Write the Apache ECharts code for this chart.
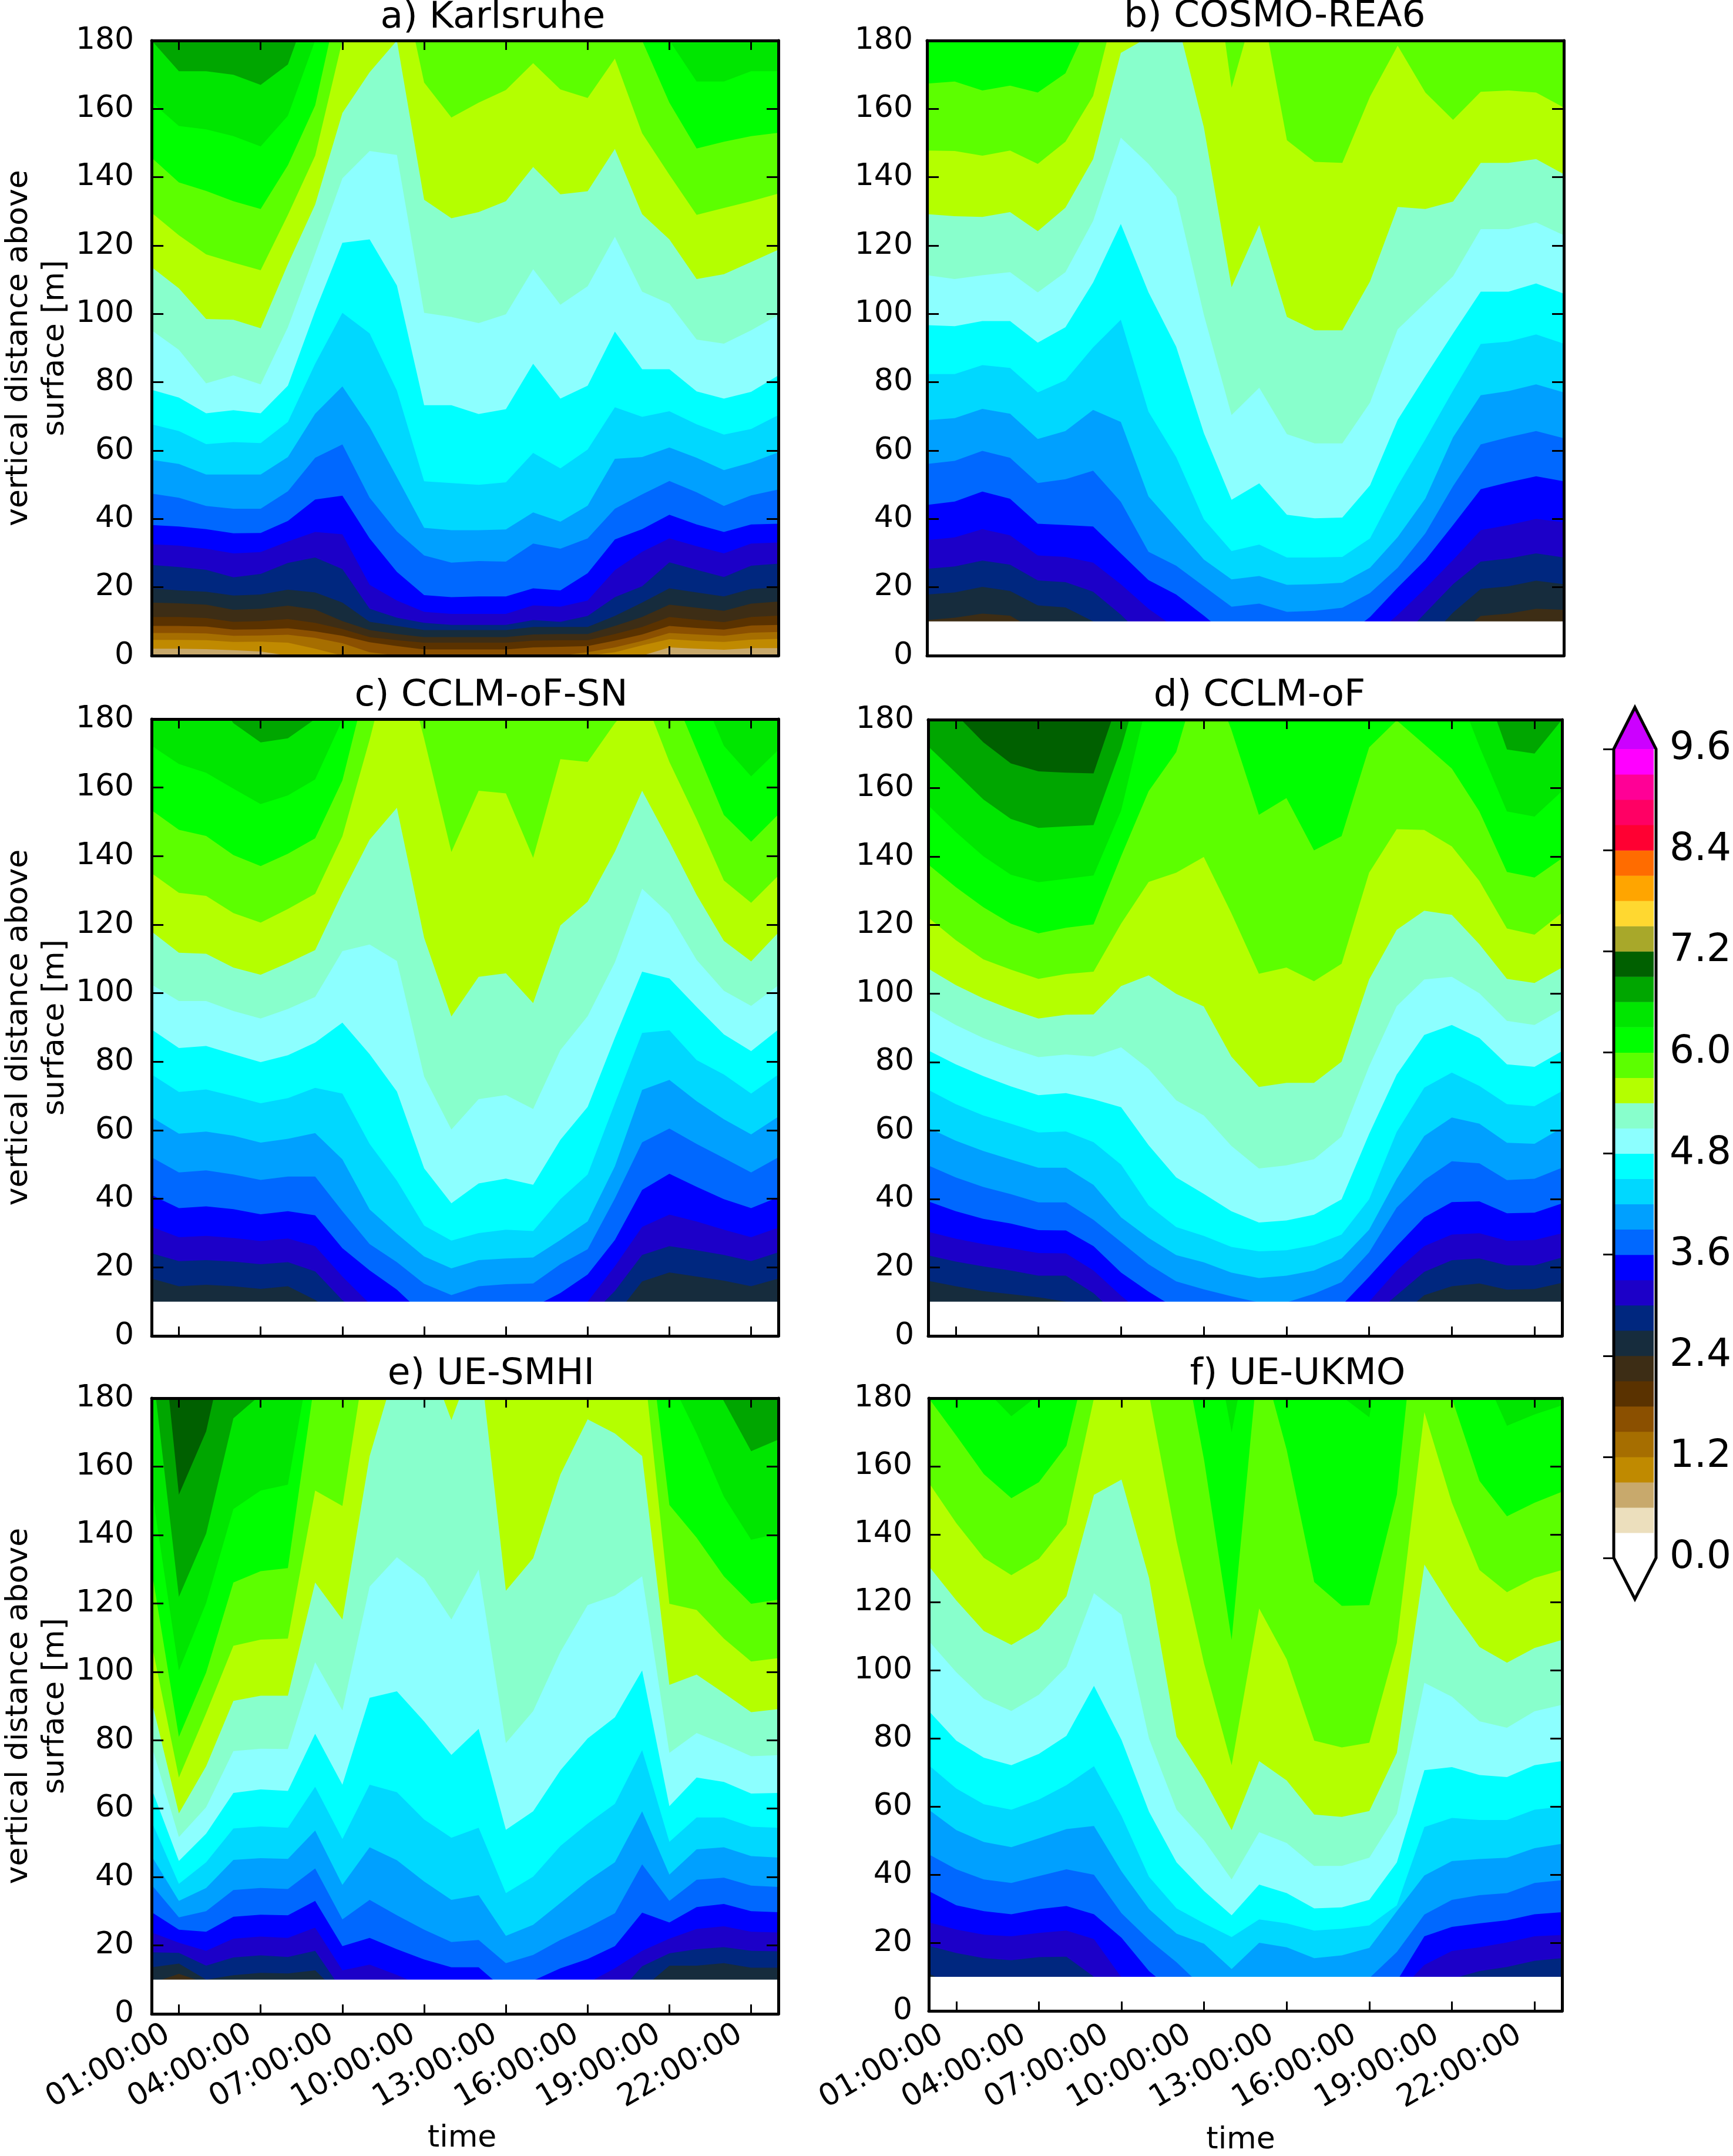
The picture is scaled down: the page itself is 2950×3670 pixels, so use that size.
<!DOCTYPE html>
<html><head><meta charset="utf-8">
<style>html,body{margin:0;padding:0;background:#fff}#c{width:2950px;height:3670px}</style>
<script src="https://cdn.jsdelivr.net/npm/echarts@6/dist/echarts.min.js"></script>
</head><body><div id="c"></div>
<script>
const hours=[0,1,2,3,4,5,6,7,8,9,10,11,12,13,14,15,16,17,18,19,20,21,22,23];
const tickHours=[1,4,7,10,13,16,19,22];
const tickLabels=['01:00:00','04:00:00','07:00:00','10:00:00','13:00:00','16:00:00','19:00:00','22:00:00'];
const panelTitles=['a) Karlsruhe','b) COSMO-REA6','c) CCLM-oF-SN','d) CCLM-oF','e) UE-SMHI','f) UE-UKMO'];
const maskHeight=10;
const colorbarStep=0.3;
const colorbarColors=['#ffffff','#ecdfbd','#c8a96c','#c08a00','#a66e00','#8b5000','#5a3200','#3d2d15','#162c3d','#00277f','#1c00c8','#0000ff','#0068ff','#00a0ff','#00d8ff','#00ffff','#8cffff','#88ffcc','#b4ff00','#5cff00','#00ff00','#00e600','#00a600','#006000','#a8a82a','#ffd830','#ffa500','#ff6c00','#ff0032','#ff0064','#ff0096','#ff00ff'];
// contour heights [m] per hour, listed from the highest band boundary downward
const topBands=[22,20,22,23,23,21];
const contoursA=[
[180,171,171,170,167,173,195,200,200,200,200,200,200,200,200,200,200,200,200,200,200,200,200,200],
[162,155,154,152,149,158,180,200,200,200,200,200,200,200,200,200,200,200,200,180,168,168,171,171],
[145.7,138.5,136,133,130.7,143.5,161,197,200,200,200,200,200,200,200,200,200,200,180,161.8,148.4,150.4,152,153],
[129.6,123,117.4,115,112.8,129,146.3,180,205,205,167.7,157.5,161.8,165.5,173.4,165.7,163.2,174.7,152.9,140.7,129,131,133,135.2],
[113.7,107.5,98.5,98.3,95.8,114.6,132,158.8,170.7,180,133.4,128,129.8,133,143,135,135.9,148.3,129.2,121.8,110.2,111.6,115.2,118.8],
[95.2,89.5,79.7,82,79.4,96.1,117.6,139.7,147.7,146.5,100.3,99.1,97.3,99.9,113.1,102.7,108.1,122.6,106.5,103,92.5,91.3,95.2,99.7],
[77.8,75.5,70.9,71.8,70.9,79,100.8,120.8,121.8,108.3,73.3,73.3,70.7,72.1,85.4,75.2,79,94.8,83.8,83.8,77.3,75.2,77.2,82],
[67.7,65.7,61.9,62.5,62.2,68.4,85.4,100.3,94.3,77.6,51,50.5,50,50.7,59.3,54.8,60.3,72.7,69.9,71.5,67.7,64.7,66.3,70.4],
[57.3,56.1,53,53,53,58.1,70.8,78.8,66.9,52.2,37.4,36.7,36.7,36.9,41.9,39.2,43.9,57.6,58.1,60.9,57.9,54.3,56.5,59.5],
[47.4,46.2,43.8,43,43,48.1,57.9,61.8,46.2,36.3,29.3,27.2,27.7,27.5,32.8,31.3,34.3,43,47.2,51.1,47.8,43.8,46.9,48.6],
[38.2,37.8,37,35.8,35.9,39.4,45.7,46.8,34.3,24.5,17.7,17.1,17.3,17.3,19.7,19.1,24.1,34,37,41.2,38.4,36.2,38.4,38.6],
[32.6,32.2,31.3,29.9,30.3,33.4,36.2,35.5,20.7,16.1,12.8,12.2,12.2,12.2,14.7,14.3,16.1,25,30.4,34.3,32,29.9,32.8,33.1],
[26.5,25.9,25.1,22.9,23.9,27.1,28.7,25.3,13.7,11.1,9.6,9,9,9,10.4,9.9,11.6,17.1,20.3,27.3,25.1,23,26.3,26.9],
[19.7,19.1,18.7,17.6,17.9,19.3,18.5,15.5,9.9,8.7,7.5,7.5,7.5,7.5,8.4,8.4,8.4,11.6,15.5,19.7,18.5,17.3,19.5,19.9],
[15.5,15.3,14.9,13.4,13.7,14.6,13.5,10.1,7.5,6.3,5.4,5.4,5.4,5.4,6.2,6.3,6.3,8.7,11.3,14.9,14,13.1,15.2,15.8],
[11.3,11.3,11,9.9,10.1,10.7,9.6,7.8,5.4,4.5,3.8,3.8,3.8,3.8,4.4,4.5,4.5,6.3,8.4,11.3,10.5,9.8,11.3,11.7],
[8.7,8.7,8.5,7.6,7.7,8,7.1,5.8,3.9,2.8,1.8,1.8,1.8,1.8,2.4,2.6,2.8,4.4,6.2,8.7,8.1,7.6,8.8,9],
[6.6,6.6,6.5,5.8,5.9,6.1,5.2,3.6,1,0,0,0,0,0,0,0,1,2.4,4.3,6.6,6.2,5.8,6.7,6.9],
[4.6,4.6,4.5,4,4.1,3.8,2,0,0,0,0,0,0,0,0,0,0,1,3,4.8,4.3,4,4.7,4.9],
[2,2,1.9,1.6,1.2,0,0,0,0,0,0,0,0,0,0,0,0,0,0,2.4,2,1.7,2.2,2.2]
];
const contoursB=[
[167.4,168,165.4,166.8,164.8,170.4,188,200,200,200,200,200,200,200,200,200,200,200,200,200,200,200,200,200],
[147.8,147.7,146.3,147.8,143.9,150.4,163.8,196,200,200,225,166.2,194.5,150.8,144.5,144.2,163.6,178.5,164.8,156.8,165,165.4,164.8,160.4],
[129.2,128.6,128.4,129.8,124.2,131.1,145.3,176.4,181,187,154.6,107.8,126,99.1,95.2,95.2,109.5,131.3,130.7,132.9,144.2,144.2,145.3,140.9],
[111.3,110.2,111.3,112.2,106.3,112.2,127.2,151.6,143.9,134.3,99.7,70.4,78.4,64.8,62.1,62.1,74,95.5,103.3,111,124.8,124.8,126.8,123],
[96.7,96.4,97.9,97.9,91.6,96.1,109.2,126.3,106.3,90.4,65.1,45.6,50.4,41.2,40.2,40.4,49.8,69,81.8,94.3,106.5,106.5,108.9,105.9],
[82.4,82.4,85,84.2,77,80.6,90.2,98.3,71.4,58.1,39.9,30.6,32.5,28.7,28.7,28.9,34.3,49.7,63.3,77.6,91.2,91.9,94,91.3],
[68.9,69.5,72.2,70.8,63.4,65.7,71.9,68.4,46.6,37.4,28.1,22.3,23.3,20.7,20.9,21.3,25.7,34.7,46,63.9,76.2,77.4,79.4,77],
[56.1,57,59.9,57.9,50.5,51.6,54.1,45,30.4,26.3,20.3,14.3,15.2,12.8,13.1,14,18.3,25.7,35.8,49.6,61.8,63.9,65.7,63.6],
[44.1,45.1,48,45.9,38.6,38.2,37.8,29.9,22.1,17.9,11.7,5,5,5,5,5,11.3,19.9,28,38.2,48.7,50.7,52.5,51],
[33.8,34.6,37,35.2,29.3,28.9,27.2,20.9,13.7,8,4,4,4,4,4,4,5,11.9,19.7,28,36.7,38.2,40,39],
[25.4,26.1,27.8,26.6,22,21.5,18.7,12,4,4,4,4,4,4,4,4,4,4,12.5,20.9,27.5,28.4,29.9,28.7],
[17.9,18.5,20.1,18.9,14.7,14.1,10,4,4,4,4,4,4,4,4,4,4,4,4,12.6,19.5,20.3,21.9,20.9],
[10.4,11.1,12.3,11.7,7,5,5,5,5,5,5,5,5,5,5,5,5,5,5,5,11.6,12.3,13.7,13.4]
];
const contoursC=[
[195,195,190,178.8,173.2,174.4,180,200,200,200,200,200,200,200,200,200,200,200,200,200,200,200,200,200],
[172.2,166.9,164.3,159.7,155.2,157.7,162.4,179.8,200,200,200,200,200,200,200,200,200,200,200,200,191,172.2,163.3,171],
[153.4,147.7,145.9,140.3,137.1,140.7,145.2,162.1,194,200,200,200,200,200,200,200,200,200,200,190,171,152,144.2,152.2],
[135,129.3,128.4,123.4,120.6,124.6,129,145.8,174,205,174.3,141.2,159.1,158.3,139.5,168.3,167.5,178.8,188,167.5,150.8,132.9,126.4,134.3],
[118,111.8,111.5,107.5,105.4,108.8,112.6,129.3,144.8,154.1,116.2,93.2,104.8,105.8,97.1,119.8,126.7,141.3,159.1,144.2,128.7,115.3,109.3,117.7],
[102.5,97.7,97.7,94.8,92.6,95.4,98.9,112.3,114.2,109.4,75.7,60.2,69.1,70.3,66.2,83.4,93.3,109,130.5,123.1,109.7,100.7,96.3,102.3],
[89.4,84,84.6,82.2,79.9,81.9,85.6,91.4,82.2,71.3,48.9,38.7,44.5,45.9,44.1,57.2,66.8,87,106.3,104.3,96,88,83.1,89.4],
[76.3,71.2,71.9,70,67.9,69.4,72.4,70.7,56,45.3,32.2,27.8,30,31,30.6,39.9,47.1,67.9,88.4,89.2,80.5,76.3,70.7,76.3],
[63.8,59,59.6,58.4,56.4,57.5,59.2,51.5,36.9,29.8,23.2,19.7,22.1,22.6,22.9,28,33.4,49.5,71.8,74.7,68.5,63.2,58.8,64],
[52.1,47.7,48.3,47.1,45.5,46.5,46.5,36.4,26.8,21.5,15.2,11.9,14.5,15.1,15.3,20.9,25.3,40.1,56.5,60.5,56,51.9,47.7,52.1],
[41.1,37.3,37.8,37,35.5,36.4,35.2,25.6,19.1,13.5,6,5,5,5,8.4,12.5,17.9,28,42.6,47.3,43.5,39.9,37.3,40.5],
[31.8,28.8,29.2,28.6,27.7,28.4,26.2,17.3,9.4,5,5,5,5,5,5,5,10,20.3,31.8,35.4,33.4,31,28.8,31.6],
[24.1,21.8,22.1,21.7,20.9,21.5,18.8,10.4,5,5,5,5,5,5,5,5,5,13.1,23.6,26.2,25,23.6,21.8,24.4],
[16.7,14.5,14.9,14.5,13.7,14.5,10.5,5,5,5,5,5,5,5,5,5,5,5.7,15.9,18.5,17.3,16.1,14.5,16.7]
];
const contoursD=[
[195,181.6,173.4,167.2,164.9,164.5,164.3,188,200,200,200,200,200,200,200,200,200,200,200,200,200,200,200,200],
[172.2,164.5,156.7,151,148.4,148.8,149.2,171.6,200,200,200,200,200,200,200,200,200,200,200,200,194,171.3,170.1,180],
[155,147.2,140.1,134.7,132.5,133.5,134.5,153.4,187,200,200,200,200,200,200,200,200,200,200,193,172.2,153.2,151.7,159.1],
[137.7,131.1,125.2,120.4,117.6,119.2,120.2,140.1,159.1,170.5,198,177.1,152.2,157.1,141.8,146,171.9,179.8,172.8,165.7,153.2,135.5,133.9,139.5],
[122.2,115.6,110,107,104.3,105.7,106.4,120.4,132.6,135.3,139.9,123.5,105.8,107.6,103.6,108.7,135.3,148,147.8,143,132.9,119,117.2,123.6],
[107.3,102.5,98.6,95.4,92.7,93.8,93.9,102.2,105.3,99.9,96.2,81.6,72.7,73.9,73.9,80.1,104.1,118.6,124.2,123,114.4,104.3,103.1,107.6],
[95.4,90.8,87,84,81.4,82.2,81.6,84.3,78,68.8,64.4,55.5,48.9,49.8,51.6,58.2,78.7,96.3,104.1,104.9,100.1,92,90.8,95.4],
[83.4,79.3,75.9,72.9,70.3,70.9,69.1,66.8,55.7,46.3,41.5,36.4,33.1,33.7,35.4,39.9,59,76.3,87.9,90.8,87,79.3,78.6,83.2],
[71.9,67.7,64.4,62,59.4,59.7,56.6,50,38.1,31.8,29.2,26,24.7,25,26.5,29.6,39.9,59.6,72.5,76.9,73,67.7,67.1,71.5],
[60.8,57,54,51.5,49.1,49.1,44.1,34.6,28.6,23.6,21.5,18.5,16.9,17.6,19.1,22.6,31,45.9,58.4,63.8,62,56.4,56.1,60.8],
[49.8,46.3,43.5,41.4,39,39,33.9,27.4,20.9,15.9,13.6,11.6,9.8,9.8,12.3,15.7,24.4,37.5,45.5,51,50.4,45.5,45.9,49.1],
[39.3,36.4,34.2,32.8,30.9,30.8,26.2,18.5,12.9,8,5,5,5,5,5,8.9,17.3,26.2,34.6,39.1,39.3,35.8,36,38.7],
[30.4,28.4,26.8,25.6,24.2,24.1,19.1,11.7,5,5,5,5,5,5,5,5,10,19.1,26.2,29.6,30,27.8,28,30],
[23.5,21.7,20.3,19.1,17.6,17.6,12.5,5,5,5,5,5,5,5,5,5,5,11.9,18.7,22.1,22.6,20.6,20.6,22.9],
[16.1,14.5,13.1,12.2,11.3,10,5,5,5,5,5,5,5,5,5,5,5,5,11.9,14.5,15.3,13.5,13.7,15.5]
];
const contoursE=[
[230,151.8,170.3,206,220,220,220,220,220,220,220,220,220,220,220,220,220,220,220,220,220,220,220,220],
[191,121.9,140.4,174.1,181,200,200,200,200,200,200,200,200,200,200,200,200,200,200,200,193.6,179.1,164.5,167.9],
[153.5,100.4,120.1,147.6,153,154.7,200,200,200,200,200,200,200,200,200,200,200,200,200,186,169.7,151.2,138.6,140.4],
[129.7,81,99.8,126.1,129.4,130.3,186,200,200,200,200,200,200,200,200,200,200,200,215,148.8,139.2,127.9,119.9,121.1],
[108.2,69.1,87.9,107.6,109.4,109.7,153,148.5,200,205,205,205,205,205,205,205,205,205,195,119.9,118.1,109.7,103,104],
[91.5,58.6,72.4,91.5,93,93,126.1,115.3,163.1,190,195,173.6,195,123.7,133.2,157.7,173.8,169.7,163.1,96.2,99.2,93.8,88.2,89.1],
[78.3,51.7,60.4,76.8,77.5,77.4,102.8,88.7,124.9,133.5,127.3,115.3,129.9,79.2,88.5,105.8,119.5,122.3,127.9,76.3,82.1,78.9,75.3,75.6],
[65.8,44.7,52.7,64.6,65.6,65.2,81.9,67,92.4,94.3,85.5,75.7,83.3,53.8,59.2,71.2,80.5,86.7,100.4,60.7,69.1,67.8,64.4,64.6],
[56.2,38,44.3,54.2,54.8,54.4,66.4,51.1,67,64.8,56.8,51.5,54.4,35.3,40.1,49.1,55.6,61.4,77.1,50.3,57.4,57.4,54.7,54.4],
[46.1,33,36.8,45,45.5,45.3,53.6,37.7,48.7,44.9,38.7,33.3,34.7,22.8,26,32.4,38.9,44.3,59.2,40.7,48.1,48.7,46.1,45.7],
[37.7,28.2,30,36.2,36.8,36.5,42.5,27.6,33.3,28.8,24.6,21,21.6,14.8,17.2,21.6,25.2,29.4,43.7,33,39.2,39.8,37.5,37.1],
[29.7,24.6,24,28.4,29,28.8,33,19.8,22.2,18.9,15.9,13.6,13.6,6.7,9.7,13.3,16,19.8,29.6,26.7,31.2,32.1,30,29.7],
[23.8,20.8,18.4,22,22.6,22.2,25.2,12.7,14.4,11.4,7.9,5,5,5,5,5,9,13.3,18.4,22,24.8,25.6,24,23.8],
[18,17.8,14.1,16.5,17.1,16.6,18.4,6.7,5,5,5,5,5,5,5,5,5,5,13.9,17.7,18.9,19.5,18.4,18.3],
[13.6,14.7,10,11.3,12,11.8,12.7,5,5,5,5,5,5,5,5,5,5,5,7.3,14.1,14.1,14.8,13.5,13.5],
[9,11.7,9,5,5,5,5,5,5,5,5,5,5,5,5,5,5,5,5,5,5,5,5,5]
];
const contoursF=[
[195,190,183,174.7,181,195,200,200,200,200,213,170,213,200,200,180.5,174.4,222,200,200,190,171.9,175.2,177.9],
[180,169,157.7,150.6,155.3,166,200,200,200,205,161.8,109,194.7,164.8,126,119,119.2,151.6,230,180,155.7,145.3,149.3,152.5],
[155.2,143.3,133.1,128,132.8,142.9,180,200,181,137.9,102,72.2,118.2,103.3,79.4,77.4,78.8,108.1,175.9,149.3,129.5,123,127.2,129.5],
[130.7,120.6,111.6,107.5,112.2,121.8,151.6,156.1,127.2,80.6,68,53.1,73.4,67.7,57.7,57,58.7,75.8,131.1,118.2,106.9,102.3,106.6,109],
[108.7,99.5,91.7,88.1,92.9,101.1,122.7,116.4,80,59.1,50.1,38.6,52.5,49.3,42.6,42.6,45,57.9,96.4,92.3,85.1,83.2,88,89.9],
[88.1,79.4,74.4,72.2,75.5,80.8,95.5,79.6,58.5,43.6,35.2,28.1,37.1,34.6,30.1,30.4,32.6,43.6,70.7,71.6,69.3,68.7,72.2,73.4],
[72.2,65.3,60.7,59.1,62.1,66.3,71.9,57.3,39.4,30.1,25.7,21.7,26.9,25.7,23.6,24.1,25.1,31,54,56.7,56.1,56.1,59.1,60],
[59.1,53.1,49.6,48.1,50.7,53.4,54.3,41,29.9,22.7,19.7,12.3,20,18.7,15.5,16.3,18.5,29.3,39.8,44,44.6,45,47.8,49.1],
[46,41.6,38.6,37.6,39.6,41.6,40,28.7,20.9,14.3,6.6,5,5,5,5,5,9.6,17.3,28.3,32.6,34,34.6,37.6,38.4],
[35.2,31,29.3,28.4,29.9,30.8,28.4,21.5,11.7,5,5,5,5,5,5,5,5,8.7,21.9,24.7,25.7,26.6,28.4,29],
[26,23.9,22.4,21.9,22.9,23.6,21.1,9.8,5,5,5,5,5,5,5,5,5,5,13.5,17.6,18.7,20.1,21.9,22.3],
[19.1,17,15.5,14.9,15.8,15.9,10,5,5,5,5,5,5,5,5,5,5,5,5,9.4,11.7,12.9,14.7,15.5],
[11,7,5,5,5,5,5,5,5,5,5,5,5,5,5,5,5,5,5,5,5,5,5,5]
];
const allContours=[contoursA,contoursB,contoursC,contoursD,contoursE,contoursF];

// layout (pixels)
const FONT='DejaVu Sans';
const frames=[[249,69,1325,1116],[1578,69,2662,1116],[250,1224,1325,2274],[1580,1225,2659,2274],[250,2380,1325,3428],[1581,2380,2659,3429]];
const titlePos=[[839,-1],[2170,-3],[836,1153],[2144,1153],[836,2308],[2209,2308]];
const yLabelMargin=[30,24,30,24,30,28];

const grid=[],xAxis=[],yAxis=[],series=[],title=[];
frames.forEach((f,i)=>{
  grid.push({left:f[0],top:f[1],width:f[2]-f[0],height:f[3]-f[1],containLabel:false});
  const line={show:true,onZero:false,lineStyle:{color:'#000',width:5}};
  const showTicks=i!==1;
  const tick={show:showTicks,inside:true,length:16,customValues:tickHours,lineStyle:{color:'#000',width:3}};
  const isBottom=i>=4;
  xAxis.push({gridIndex:i,type:'value',position:'bottom',min:0,max:23,z:10,axisLine:line,axisTick:tick,splitLine:{show:false},
    name:isBottom?'time':'',nameLocation:'middle',nameGap:i===5?194:186,
    nameTextStyle:{color:'#000',fontFamily:FONT,fontSize:52,padding:[0,i===5?16:10,0,0]},
    axisLabel:{show:isBottom,customValues:tickHours,rotate:30,margin:i===5?22:20,padding:[0,i===5?30:22,0,0],color:'#000',fontFamily:FONT,fontSize:52,
      formatter:v=>tickLabels[tickHours.indexOf(v)]||''}});
  xAxis.push({gridIndex:i,type:'value',position:'top',min:0,max:23,z:10,axisLine:line,axisTick:tick,axisLabel:{show:false},splitLine:{show:false}});
  const ytick={show:true,inside:true,length:20,lineStyle:{color:'#000',width:3}};
  const isLeft=i%2===0;
  yAxis.push({gridIndex:i,type:'value',position:'left',min:0,max:180,interval:20,z:10,axisLine:line,axisTick:ytick,splitLine:{show:false},
    axisLabel:{margin:yLabelMargin[i],padding:[5,0,0,0],color:'#000',fontFamily:FONT,fontSize:52},
    name:isLeft?'vertical distance above\nsurface [m]':'',nameLocation:'middle',nameGap:132,
    nameTextStyle:{color:'#000',fontFamily:FONT,fontSize:52,lineHeight:62,align:'center'}});
  yAxis.push({gridIndex:i,type:'value',position:'right',min:0,max:180,interval:20,z:10,axisLine:line,axisTick:ytick,axisLabel:{show:false},splitLine:{show:false}});
  title.push({text:panelTitles[i],left:titlePos[i][0],top:titlePos[i][1],textAlign:'center',padding:0,
    textStyle:{color:'#000',fontFamily:FONT,fontWeight:'normal',fontSize:63}});

  const band=(color,values)=>({type:'line',xAxisIndex:2*i,yAxisIndex:2*i,data:values,showSymbol:false,silent:true,animation:false,
    lineStyle:{width:0},areaStyle:{color:color,opacity:1,origin:'start'},clip:true,z:2});
  const yMax=180;
  series.push(band(colorbarColors[topBands[i]],hours.map(h=>[h,yMax])));
  allContours[i].forEach((c,k)=>{
    series.push(band(colorbarColors[topBands[i]-k-1],c.map((v,h)=>[hours[h],v])));
  });
  if(i>0) series.push(band('#ffffff',hours.map(h=>[h,maskHeight])));
});

// colour bar
const cbFrame={x0:2749,x1:2818,y0:1275,y1:2652};
const cbIndex=frames.length;
grid.push({left:cbFrame.x0,top:cbFrame.y0,width:cbFrame.x1-cbFrame.x0,height:cbFrame.y1-cbFrame.y0});
xAxis.push({gridIndex:cbIndex,type:'value',min:0,max:1,show:false});
yAxis.push({gridIndex:cbIndex,type:'value',position:'right',min:0,max:9.6,interval:1.2,z:10,
  axisLine:{show:false},splitLine:{show:false},axisTick:{show:true,inside:true,length:20,lineStyle:{color:'#000',width:3}},
  axisLabel:{margin:27,padding:[6,0,0,0],color:'#000',fontFamily:FONT,fontSize:66,formatter:v=>v.toFixed(1)}});
series.push({type:'custom',xAxisIndex:2*frames.length,yAxisIndex:2*frames.length,silent:true,animation:false,clip:false,z:2,
  data:colorbarColors.map((c,k)=>[k*colorbarStep,(k+1)*colorbarStep]),
  renderItem:(params,api)=>{
    const a=api.coord([0,api.value(0)]),b=api.coord([1,api.value(1)]);
    return {type:'rect',shape:{x:a[0],y:b[1],width:b[0]-a[0],height:a[1]-b[1]+0.5},style:{fill:colorbarColors[params.dataIndex]}};
  }});

const graphic=[
 {type:'polygon',z:5,shape:{points:[[2747,1275],[2783,1204],[2819,1275]]},style:{fill:'#cc00ff'}},
 {type:'polygon',z:50,shape:{points:[[2747,1275],[2783,1204],[2819,1275],[2819,2652],[2783,2722],[2747,2652]]},style:{fill:'none',stroke:'#000',lineWidth:5}}
];

const chart=echarts.init(document.getElementById('c'),null,{renderer:'canvas',width:2950,height:3670});
chart.setOption({animation:false,backgroundColor:'#fff',title,grid,xAxis,yAxis,series,graphic});
</script></body></html>
